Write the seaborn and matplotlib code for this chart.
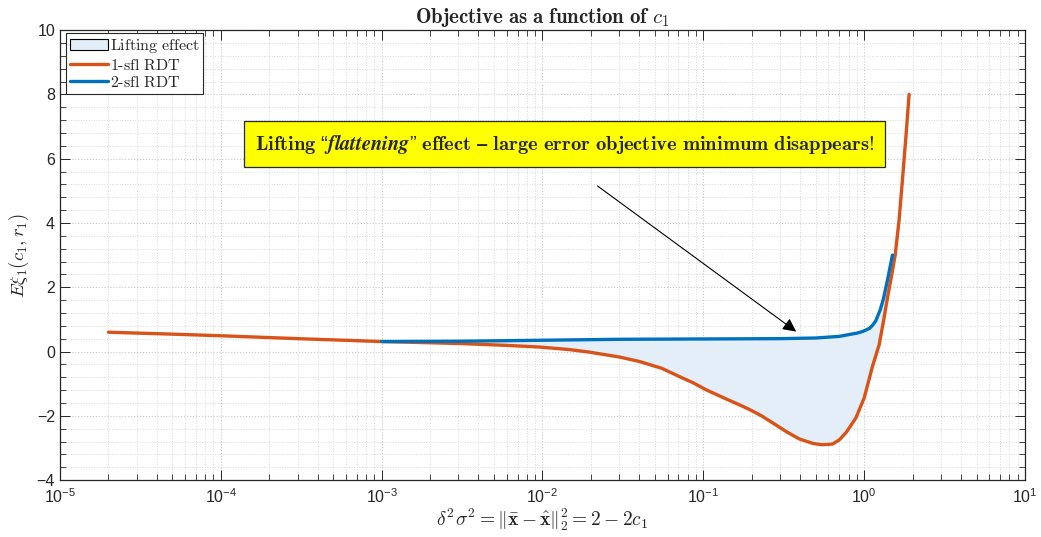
import numpy as np
import pandas as pd
import matplotlib
matplotlib.use("Agg")
import matplotlib.pyplot as plt
import matplotlib.ticker as mticker
from matplotlib.patches import Patch
from matplotlib.lines import Line2D
import seaborn as sns

# 1-sfl RDT objective vs. 2 - 2c1
red_x = [2e-5, 5e-5, 1e-4, 3e-4, 1e-3, 3e-3, 6e-3, 0.0095, 0.0147, 0.0196,
         0.03, 0.04, 0.055, 0.071, 0.087, 0.104, 0.135, 0.168, 0.193, 0.23,
         0.27, 0.33, 0.395, 0.48, 0.548, 0.636, 0.70, 0.773, 0.888, 1.0,
         1.126, 1.24, 1.32, 1.40, 1.48, 1.56, 1.65, 1.73, 1.82, 1.904]
red_y = [0.60, 0.54, 0.49, 0.40, 0.31, 0.25, 0.19, 0.14, 0.06, -0.02,
         -0.17, -0.31, -0.52, -0.78, -0.98, -1.19, -1.45, -1.66, -1.80, -2.00,
         -2.22, -2.50, -2.72, -2.86, -2.90, -2.88, -2.75, -2.52, -2.07, -1.45,
         -0.47, 0.21, 0.95, 1.70, 2.35, 3.00, 4.10, 5.33, 6.70, 8.00]

# 2-sfl RDT objective
blue_x = [1e-3, 3e-3, 1e-2, 0.03, 0.1, 0.3, 0.5, 0.7, 0.81, 0.9, 0.976,
          1.08, 1.13, 1.18, 1.26, 1.32, 1.40, 1.50]
blue_y = [0.31, 0.32, 0.35, 0.38, 0.39, 0.40, 0.42, 0.47, 0.53, 0.57, 0.62,
          0.72, 0.82, 0.95, 1.30, 1.65, 2.25, 3.00]

legend_labels = ["Lifting effect", "1-sfl RDT", "2-sfl RDT"]
x_ticks = [1e-5, 1e-4, 1e-3, 1e-2, 1e-1, 1e0, 1e1]
y_ticks = [-4, -2, 0, 2, 4, 6, 8, 10]

RED = "#D95319"
BLUE = "#0072BD"
FILL = "#E3EEF8"

sns.set_style("ticks")
plt.rcParams["font.family"] = ["Liberation Sans", "DejaVu Sans"]
plt.rcParams["mathtext.fontset"] = "custom"
plt.rcParams["mathtext.rm"] = "Liberation Sans"
plt.rcParams["mathtext.it"] = "Liberation Sans:italic"
plt.rcParams["mathtext.bf"] = "Liberation Sans:bold"

fig = plt.figure(figsize=(10.41, 5.37), dpi=100)
ax = fig.add_axes([0.0576, 0.106, 0.9270, 0.838])
ax.set_xscale("log")

df_red = pd.DataFrame({"x": red_x, "y": red_y})
df_blue = pd.DataFrame({"x": blue_x, "y": blue_y})

# shaded gap between the two objectives over the 2-sfl range
fx = np.array(sorted(set([v for v in red_x if blue_x[0] <= v <= blue_x[-1]] + blue_x)))
fr = np.interp(np.log10(fx), np.log10(red_x), red_y)
fb = np.interp(np.log10(fx), np.log10(blue_x), blue_y)
ax.fill_between(fx, fr, fb, color=FILL, lw=0, zorder=1)

sns.lineplot(data=df_red, x="x", y="y", color=RED, lw=2.4, estimator=None,
             sort=False, ax=ax, zorder=3)
sns.lineplot(data=df_blue, x="x", y="y", color=BLUE, lw=2.4, estimator=None,
             sort=False, ax=ax, zorder=4)

ax.set_xlim(1e-5, 1e1)
ax.set_ylim(-4, 10)
ax.set_xticks(x_ticks)
ax.xaxis.set_minor_locator(mticker.LogLocator(base=10, subs=np.arange(2, 10), numticks=20))
ax.xaxis.set_minor_formatter(mticker.NullFormatter())
ax.set_yticks(y_ticks)
ax.yaxis.set_minor_locator(mticker.MultipleLocator(0.4))

ax.grid(which="major", color="#c8c8c8", ls=":", lw=0.8)
ax.grid(which="minor", color="#d8d8d8", ls=":", lw=0.7)
ax.set_axisbelow(True)

ax.tick_params(which="both", direction="in", top=True, right=True,
               colors="#262626", labelcolor="#262626", labelsize=11.5)
ax.tick_params(which="major", length=7, width=0.7)
ax.tick_params(which="minor", length=4, width=0.6)
ax.tick_params(axis="x", pad=5)
for s in ax.spines.values():
    s.set_visible(True)
    s.set_color("#262626")
    s.set_linewidth(0.9)

ax.set_title(r"$\mathbf{Objective\ as\ a\ function\ of}\ c_1$", fontsize=15,
             math_fontfamily="cm", pad=5)
ax.set_ylabel(r"$E\xi_1(c_1,r_1)$", fontsize=13.5, math_fontfamily="cm", labelpad=4)
ax.set_xlabel(r"$\delta^2\sigma^2=\|\bar{\mathbf{x}}-\hat{\mathbf{x}}\|_2^2=2-2c_1$",
              fontsize=14, math_fontfamily="cm", labelpad=1)

handles = [Patch(facecolor=FILL, edgecolor="black", lw=0.8),
           Line2D([], [], color=RED, lw=2.4),
           Line2D([], [], color=BLUE, lw=2.4)]
leg = ax.legend(handles, [r"$\mathrm{Lifting\ effect}$", r"$\mathrm{1\text{-}sfl\ RDT}$",
                          r"$\mathrm{2\text{-}sfl\ RDT}$"],
                loc="upper left", bbox_to_anchor=(0.006, 0.993), fancybox=False,
                framealpha=1, edgecolor="#262626", fontsize=11.5,
                handlelength=2.4, handletextpad=0.1, labelspacing=0.15,
                borderpad=0.25, borderaxespad=0.0)
for t in leg.get_texts():
    t.set_math_fontfamily("cm")
leg.get_frame().set_linewidth(0.8)

ax.annotate("", xy=(0.378, 0.62), xytext=(0.022, 5.15),
            arrowprops=dict(arrowstyle="-|>", color="black", lw=0.8,
                            mutation_scale=20, shrinkA=0, shrinkB=0), zorder=6)
ax.text(0.0137, 6.45,
        r"$\mathbf{Lifting}$ “$\mathbfit{flattening}$” $\mathbf{effect\ –\ large\ error\ objective\ minimum\ disappears!}$",
        ha="center", va="center", fontsize=14.8, math_fontfamily="cm", zorder=7,
        bbox=dict(boxstyle="square,pad=0.52", fc="#FFFF00", ec="#262626", lw=0.9))

fig.savefig("out.png", dpi=100)
